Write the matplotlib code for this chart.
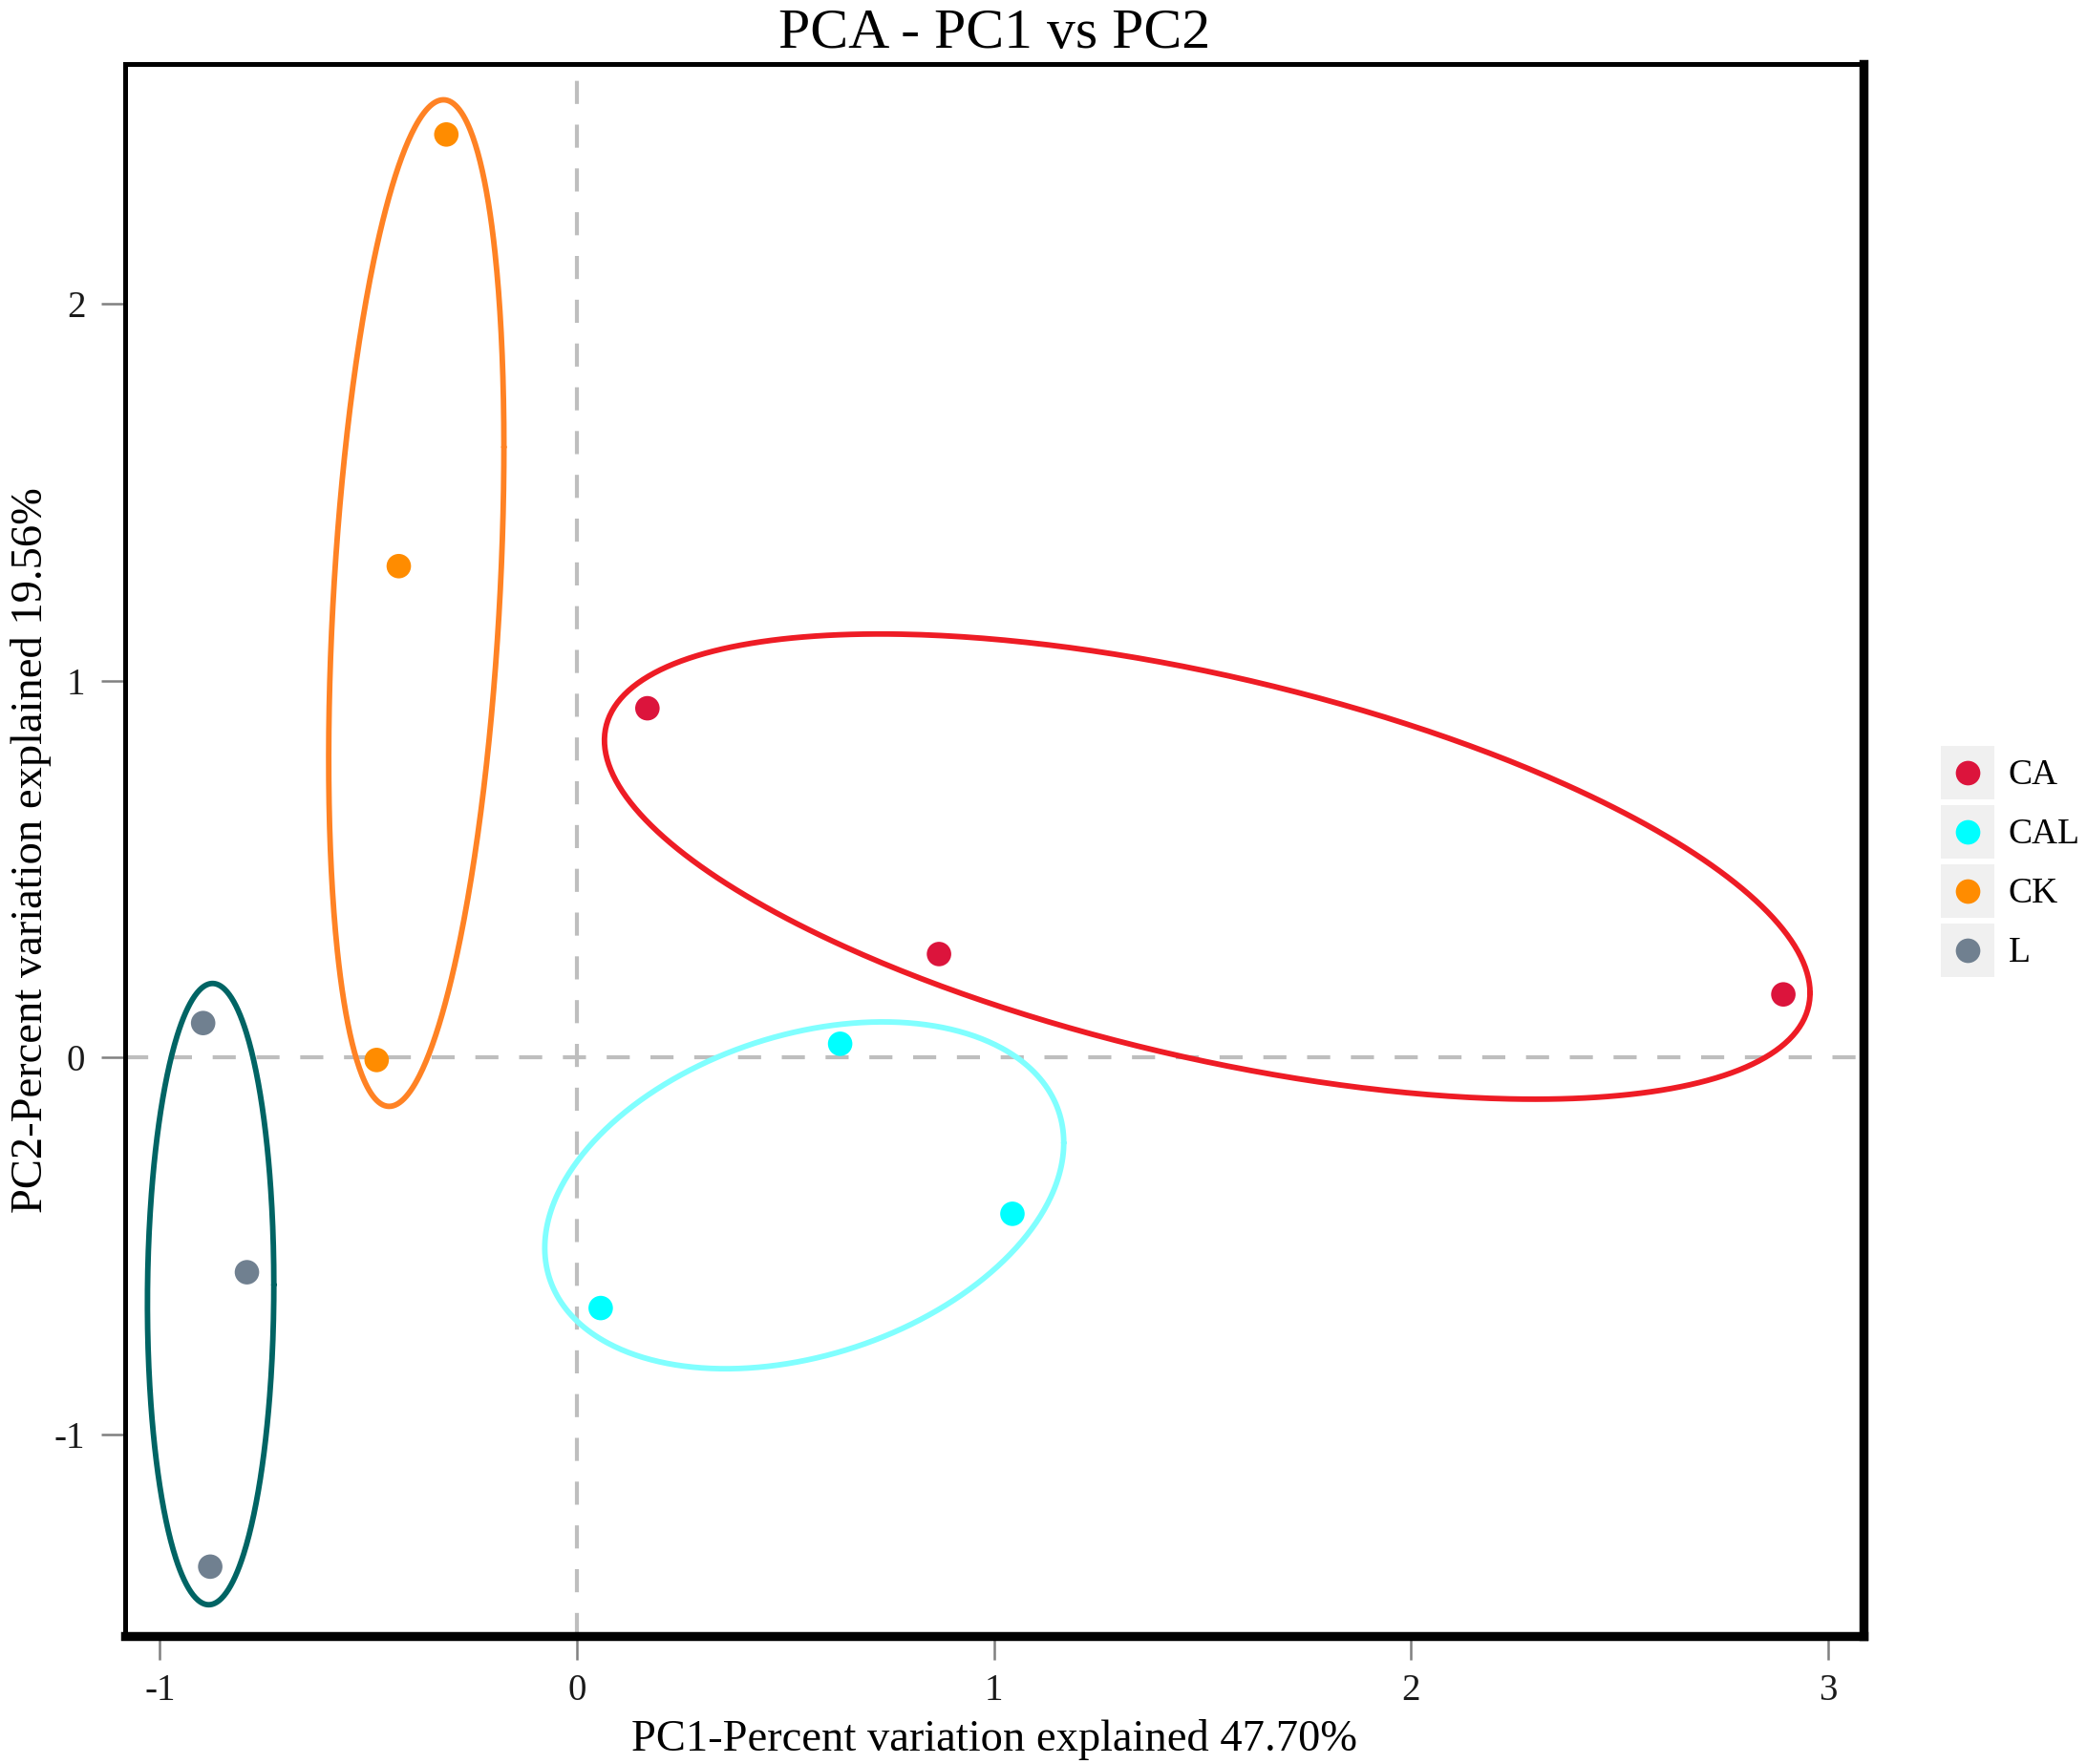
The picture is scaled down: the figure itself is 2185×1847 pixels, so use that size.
import numpy as np
import matplotlib
matplotlib.use("Agg")
import matplotlib.pyplot as plt
from matplotlib.legend_handler import HandlerBase
from matplotlib.patches import Rectangle
from matplotlib.lines import Line2D

# ---- data ----
groups = ["CA", "CAL", "CK", "L"]
ca_x = [0.169, 0.868, 2.892]
ca_y = [0.927, 0.275, 0.168]
cal_x = [0.631, 1.044, 0.057]
cal_y = [0.037, -0.414, -0.664]
ck_x = [-0.313, -0.427, -0.480]
ck_y = [2.449, 1.304, -0.006]
l_x = [-0.896, -0.791, -0.879]
l_y = [0.092, -0.569, -1.350]

# ellipse outlines: centre, half-extent in x and y, correlation
ell_cx = [1.511, 0.545, -0.385, -0.878]
ell_cy = [0.507, -0.365, 1.206, -0.627]
ell_hx = [1.445, 0.622, 0.210, 0.1515]
ell_hy = [0.617, 0.460, 1.335, 0.824]
ell_r = [-0.543, 0.303, 0.31, 0.03]

x_ticks = [-1, 0, 1, 2, 3]
y_ticks = [-1, 0, 1, 2]
title = "PCA - PC1 vs PC2"
x_label = "PC1-Percent variation explained 47.70%"
y_label = "PC2-Percent variation explained 19.56%"

point_colors = ["#DC143C", "#00FFFF", "#FF8C00", "#708090"]
ellipse_colors = ["#EE1C25", "#80FFFF", "#FF8224", "#006464"]

plt.rcParams['font.family'] = ['Liberation Serif', 'DejaVu Serif']

W, H = 2185, 1847
fig = plt.figure(figsize=(W / 100, H / 100), dpi=100)
left, right, top, bottom = 131, 1950.5, 67, 1713
ax = fig.add_axes([left / W, 1 - bottom / H, (right - left) / W, (bottom - top) / H])

ax.set_xlim(-1.083, 3.083)
ax.set_ylim(-1.534, 2.636)

# reference lines
ax.axhline(0, color="#BEBEBE", lw=3, ls=(0, (5.8, 5.2)), zorder=1)
ax.axvline(0, color="#BEBEBE", lw=3, ls=(0, (5.8, 5.2)), zorder=1)

xs = [ca_x, cal_x, ck_x, l_x]
ys = [ca_y, cal_y, ck_y, l_y]

t = np.linspace(0, 2 * np.pi, 500)
for i, g in enumerate(groups):
    r = ell_r[i]
    ex = ell_cx[i] + ell_hx[i] * np.cos(t)
    ey = ell_cy[i] + ell_hy[i] * (r * np.cos(t) + np.sqrt(1 - r * r) * np.sin(t))
    ax.plot(ex, ey, color=ellipse_colors[i], lw=4.2, zorder=2, solid_capstyle='round')

for i, g in enumerate(groups):
    ax.scatter(xs[i], ys[i], s=340, color=point_colors[i], edgecolors='none', zorder=3, label=g)

ax.set_xticks(x_ticks)
ax.set_xticklabels([str(v) for v in x_ticks])
ax.set_yticks(y_ticks)
ax.set_yticklabels([str(v) for v in y_ticks])
ax.tick_params(axis='both', length=18, width=1.8, color='#808080', labelsize=28,
               labelcolor='#1a1a1a')
ax.tick_params(axis='x', pad=10)
ax.tick_params(axis='y', pad=12)

for side, lw in [("left", 3.6), ("top", 3.6), ("right", 6.8), ("bottom", 6.8)]:
    ax.spines[side].set_linewidth(lw)
    ax.spines[side].set_color("black")
    ax.spines[side].set_capstyle('projecting')

ax.set_title(title, fontsize=43, pad=12)
ax.set_xlabel(x_label, fontsize=33.5, labelpad=8)
ax.set_ylabel(y_label, fontsize=33.5, labelpad=2)


class KeyHandler(HandlerBase):
    def create_artists(self, legend, orig_handle, xdescent, ydescent, width, height, fontsize, trans):
        rect = Rectangle((-xdescent, -ydescent), width, height, facecolor="#F0F0F0",
                         edgecolor='none', transform=trans)
        col = orig_handle.get_facecolor()[0]
        dot = Line2D([-xdescent + width / 2], [-ydescent + height / 2], marker='o', ls='none',
                     markersize=18.5, markerfacecolor=col, markeredgecolor='none', transform=trans)
        return [rect, dot]


handles, labels = ax.get_legend_handles_labels()
leg = ax.legend(handles, labels, handler_map={h: KeyHandler() for h in handles},
                loc='center left', bbox_to_anchor=(2032 / W, 1 - 902 / H),
                bbox_transform=fig.transFigure, frameon=False, fontsize=27,
                handlelength=1.48, handleheight=1.9, labelspacing=0.17,
                handletextpad=0.4, borderpad=0, borderaxespad=0)

fig.savefig("out.png", dpi=100, facecolor='white')
